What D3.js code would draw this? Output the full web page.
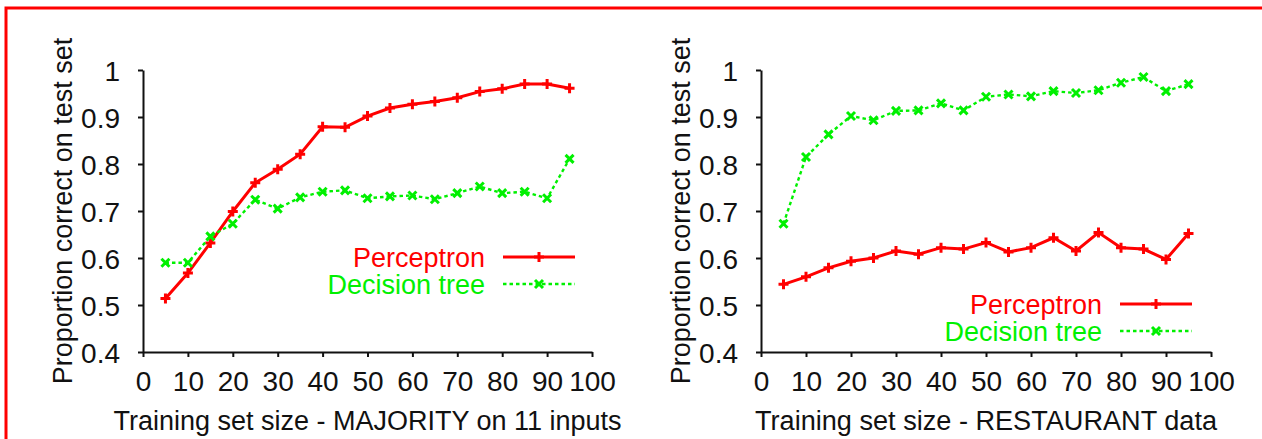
<!DOCTYPE html>
<html>

<head>
  <meta charset="UTF-8" />
  <title>Perceptron vs Decision tree</title>
  <style>
    body {
      margin: 0;
      background: white;
    }

    svg text {
      font-family: "Liberation Sans", Arial, Helvetica, sans-serif;
      fill: #111;
    }
  </style>
  <script src="https://d3js.org/d3.v7.min.js"></script>
</head>

<body>
  <script>
    // training set sizes (same for both panels)
    let sizes = [5, 10, 15, 20, 25, 30, 35, 40, 45, 50, 55, 60, 65, 70, 75, 80, 85, 90, 95];

    // MAJORITY on 11 inputs
    let majPerceptron = [0.514, 0.568, 0.632, 0.699, 0.760, 0.789, 0.821, 0.879, 0.878, 0.902,
      0.919, 0.927, 0.933, 0.941, 0.954, 0.960, 0.970, 0.970, 0.961];
    let majTree = [0.590, 0.590, 0.646, 0.673, 0.724, 0.705, 0.729, 0.741, 0.744, 0.727,
      0.731, 0.733, 0.725, 0.738, 0.752, 0.738, 0.741, 0.727, 0.811];

    // RESTAURANT data
    let restPerceptron = [0.544, 0.560, 0.579, 0.593, 0.600, 0.615, 0.608, 0.622, 0.619, 0.633,
      0.613, 0.622, 0.643, 0.615, 0.654, 0.622, 0.619, 0.597, 0.652];
    let restTree = [0.673, 0.815, 0.863, 0.902, 0.893, 0.913, 0.914, 0.929, 0.914, 0.943,
      0.948, 0.944, 0.955, 0.951, 0.957, 0.973, 0.985, 0.955, 0.970];

    let xTicks = [0, 10, 20, 30, 40, 50, 60, 70, 80, 90, 100];
    let yTicks = [0.4, 0.5, 0.6, 0.7, 0.8, 0.9, 1];
    let seriesNames = ["Perceptron", "Decision tree"];
    let yTitle = "Proportion correct on test set";

    let W = 1262, H = 439,
      colors = { perc: "#ff0000", tree: "#00f000" },
      fontSize = 27;

    let svg = d3.select("body")
      .append("svg")
      .attr("width", W)
      .attr("height", H);

    /* red frame, only top and left edges visible */
    svg.append("rect")
      .attr("x", 6)
      .attr("y", 8)
      .attr("width", W + 20)
      .attr("height", H + 20)
      .attr("fill", "none")
      .attr("stroke", "#ff0000")
      .attr("stroke-width", 3);

    let panels = [
      {
        left: 143, right: 592, titleX: 62,
        xTitle: "Training set size - MAJORITY on 11 inputs", xTitleLen: 508,
        perc: majPerceptron, tree: majTree,
        legendX: 485, legendY: 257
      },
      {
        left: 761, right: 1211, titleX: 680,
        xTitle: "Training set size - RESTAURANT data", xTitleLen: 462,
        perc: restPerceptron, tree: restTree,
        legendX: 1102, legendY: 304
      }
    ];

    let yTop = 70, yBottom = 352;

    let plusPath = "M-5,0H5M0,-5V5",
      crossPath = "M-4,-4L4,4M-4,4L4,-4";

    panels.forEach(p => {
      let xScale = d3.scaleLinear().domain([0, 100]).range([p.left, p.right]);
      let yScale = d3.scaleLinear().domain([0.4, 1]).range([yBottom, yTop]);

      /* axes */
      let yAxis = svg.append("g")
        .attr("transform", `translate(${p.left},0)`)
        .call(d3.axisLeft(yScale).tickValues(yTicks).tickSize(5).tickSizeOuter(0).tickPadding(18)
          .tickFormat(d3.format("~g")));
      let xAxis = svg.append("g")
        .attr("transform", `translate(0,${yBottom})`)
        .call(d3.axisBottom(xScale).tickValues(xTicks).tickSize(5).tickSizeOuter(0).tickPadding(14));

      [xAxis, yAxis].forEach(ax => {
        ax.selectAll("path, line").attr("stroke", "#111").attr("stroke-width", 2);
        ax.selectAll("text")
          .style("font-size", "28px")
          .attr("fill", "#111");
      });
      yAxis.selectAll("text").attr("dy", "0.36em");

      /* axis titles */
      svg.append("text")
        .attr("transform", `translate(${p.titleX},${(yTop + yBottom) / 2}) rotate(-90)`)
        .attr("text-anchor", "middle")
        .attr("dy", "0.36em")
        .style("font-size", fontSize + "px")
        .text(yTitle);

      svg.append("text")
        .attr("x", (p.left + p.right) / 2)
        .attr("y", 430)
        .attr("text-anchor", "middle")
        .attr("textLength", p.xTitleLen)
        .attr("lengthAdjust", "spacingAndGlyphs")
        .style("font-size", fontSize + "px")
        .text(p.xTitle);

      /* series lines */
      let line = d3.line()
        .x((d, i) => xScale(sizes[i]))
        .y(d => yScale(d));

      let series = [
        { key: "perc", values: p.perc, dash: null, width: 3, marker: plusPath },
        { key: "tree", values: p.tree, dash: "3.5,3", width: 2.4, marker: crossPath }
      ];

      series.forEach(s => {
        svg.append("path")
          .datum(s.values)
          .attr("d", line)
          .attr("fill", "none")
          .attr("stroke", colors[s.key])
          .attr("stroke-width", s.width)
          .attr("stroke-dasharray", s.dash);

        svg.append("g")
          .selectAll("path")
          .data(s.values)
          .enter()
          .append("path")
          .attr("transform", (d, i) => `translate(${xScale(sizes[i])},${yScale(d)})`)
          .attr("d", s.marker)
          .attr("stroke", colors[s.key])
          .attr("stroke-width", 3)
          .attr("fill", "none");
      });

      /* legend */
      let legend = svg.append("g")
        .attr("transform", `translate(${p.legendX},${p.legendY})`);

      let rows = legend.selectAll("g")
        .data(series)
        .enter()
        .append("g")
        .attr("transform", (d, i) => `translate(0,${i * 27})`);

      rows.append("text")
        .attr("text-anchor", "end")
        .attr("dy", "0.36em")
        .style("font-size", fontSize + "px")
        .style("fill", d => colors[d.key])
        .text((d, i) => seriesNames[i]);

      rows.append("line")
        .attr("x1", 18)
        .attr("x2", 90)
        .attr("stroke", d => colors[d.key])
        .attr("stroke-width", d => d.width)
        .attr("stroke-dasharray", d => d.dash);

      rows.append("path")
        .attr("transform", "translate(54,0)")
        .attr("d", d => d.marker)
        .attr("stroke", d => colors[d.key])
        .attr("stroke-width", 3)
        .attr("fill", "none");
    });
  </script>
</body>

</html>
